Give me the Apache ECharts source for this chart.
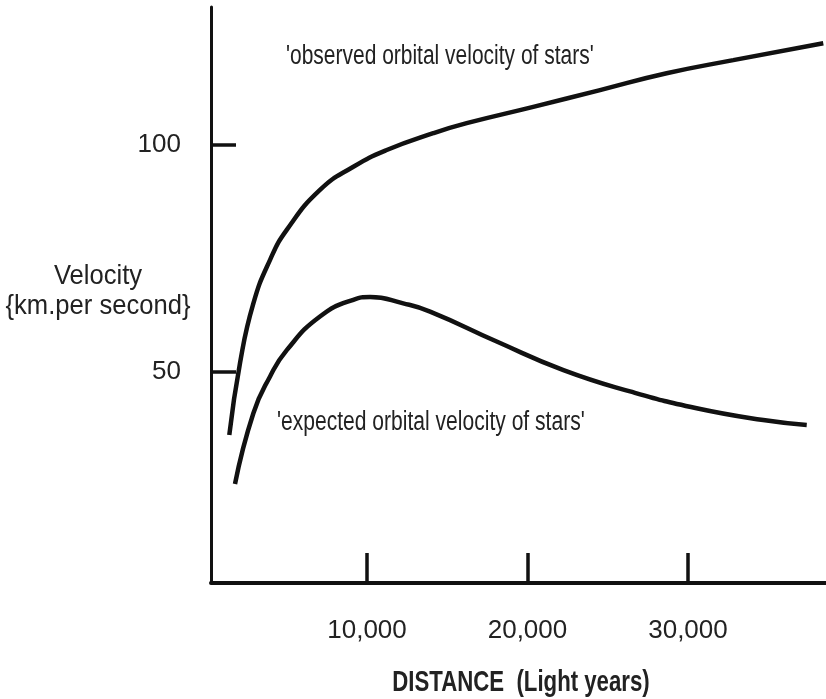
<!DOCTYPE html>
<html>
<head>
<meta charset="utf-8">
<script src="https://cdn.jsdelivr.net/npm/echarts@6/dist/echarts.min.js"></script>
<style>
  html, body { margin: 0; padding: 0; background: #fff; }
  #chart { width: 826px; height: 699px; }
</style>
</head>
<body>
<div id="chart"></div>
<script>
// Galaxy rotation curve: observed vs expected orbital velocity of stars
const FONT = '"Liberation Sans", Arial, Helvetica, sans-serif';

const xTicks = [10000, 20000, 30000];
const yTicks = [50, 100];

const observedDistance = [1420, 2090, 2920, 3960, 5000, 7070, 9150, 11230, 14130, 16210, 20360, 24520, 28670, 32820, 38430];
const observedVelocity = [36.1, 52.0, 65.1, 74.7, 81.3, 90.1, 95.2, 98.9, 102.6, 104.8, 108.4, 112.1, 115.8, 118.7, 122.4];

const expectedDistance = [1775, 2920, 3960, 5000, 7070, 9150, 10190, 12260, 13930, 18080, 22240, 26390, 30540, 34690, 37400];
const expectedVelocity = [25.3, 40.9, 49.0, 54.8, 62.2, 65.9, 66.5, 65.1, 63.3, 56.7, 50.4, 45.7, 42.0, 39.4, 38.3];

const observedLabel = "'observed orbital velocity of stars'";
const expectedLabel = "'expected orbital velocity of stars'";
const yTitle = 'Velocity\n{km.per second}';
const xTitle = 'DISTANCE  (Light years)';

const pairs = (xs, ys) => xs.map((x, i) => [x, ys[i]]);

const ink = '#111';
const textInk = '#222';

// condensed-looking text: a regular face squeezed horizontally
function label(text, x, y, size, squeeze, align, extra) {
  return {
    type: 'text', x: x, y: y, scaleX: squeeze, scaleY: 1,
    style: Object.assign({
      text: text, fill: textInk, fontSize: size, fontFamily: FONT,
      textAlign: align, textVerticalAlign: 'middle'
    }, extra || {})
  };
}

const chart = echarts.init(document.getElementById('chart'), null, { renderer: 'canvas' });

chart.setOption({
  animation: false,
  backgroundColor: '#fff',
  grid: { left: 211, right: 0, top: 7, bottom: 116, containLabel: false },
  xAxis: {
    type: 'value',
    min: 280,
    max: 38600,
    splitLine: { show: false },
    axisLine: { show: true, lineStyle: { color: ink, width: 4 } },
    axisTick: {
      show: true, inside: true, length: 30,
      customValues: xTicks,
      lineStyle: { color: ink, width: 3.5 }
    },
    axisLabel: {
      customValues: xTicks,
      margin: 35,
      color: textInk,
      fontSize: 26,
      fontFamily: FONT,
      formatter: v => v.toLocaleString('en-US')
    }
  },
  yAxis: {
    type: 'value',
    min: 3.5,
    max: 130.4,
    splitLine: { show: false },
    axisLine: { show: true, lineStyle: { color: ink, width: 3 } },
    axisTick: {
      show: true, inside: true, length: 25,
      customValues: yTicks,
      lineStyle: { color: ink, width: 3.5 }
    },
    axisLabel: {
      customValues: yTicks,
      margin: 30,
      color: textInk,
      fontSize: 26,
      fontFamily: FONT
    }
  },
  graphic: [
    label(yTitle, 98, 291, 28, 0.914, 'center', { lineHeight: 30 }),
    label(observedLabel, 286, 57, 27, 0.777, 'left'),
    label(expectedLabel, 277, 423, 27, 0.78, 'left'),
    label(xTitle, 521, 683, 30, 0.74, 'center', { fontWeight: 'bold' })
  ],
  series: [
    {
      name: 'observed',
      type: 'line',
      data: pairs(observedDistance, observedVelocity),
      smooth: 0.5,
      showSymbol: false,
      lineStyle: { color: ink, width: 4.5 }
    },
    {
      name: 'expected',
      type: 'line',
      data: pairs(expectedDistance, expectedVelocity),
      smooth: 0.5,
      showSymbol: false,
      lineStyle: { color: ink, width: 4.5 }
    }
  ]
});
</script>
</body>
</html>
